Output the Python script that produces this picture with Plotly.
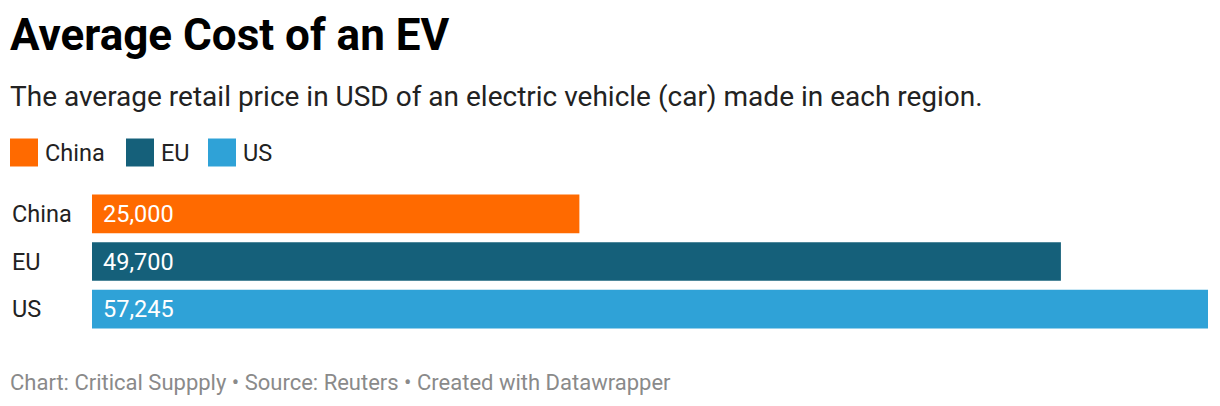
import plotly.graph_objects as go

# data
regions = ['China', 'EU', 'US']
avg_price_usd = [25000, 49700, 57245]
bar_colors = ['#ff6a00', '#15607a', '#2fa2d7']

title = 'Average Cost of an EV'
subtitle = 'The average retail price in USD of an electric vehicle (car) made in each region.'
footer = 'Chart: Critical Suppply \u2022 Source: Reuters \u2022 Created with Datawrapper'

FONT = 'Roboto'
LABEL_SIZE = 23.5
OFF = 8  # default body margin of the html page
PAD = 2  # annotation box padding
W, H = 1220 - 2 * OFF, 406 - 2 * OFF
PLOT_L, PLOT_R, PLOT_T, PLOT_B = 92 - OFF, 1208 - OFF, 189.5 - OFF, 333.5 - OFF
M_L, M_R, M_T, M_B = PLOT_L, W - PLOT_R, PLOT_T, H - PLOT_B

fig = go.Figure()
fig.add_trace(go.Bar(y = regions, x = avg_price_usd, orientation = 'h',
                     marker = dict(color = bar_colors, line = dict(width = 0)),
                     hoverinfo = 'skip', showlegend = False))

annotations = []

# category labels (left aligned at the left edge) and value labels inside bars
for reg, val in zip(regions, avg_price_usd):
    annotations.append(dict(text = reg, xref = 'paper', x = 0, xshift = 12 - PAD - 92, xanchor = 'left',
                            yref = 'y', y = reg, yanchor = 'middle', showarrow = False,
                            font = dict(family = FONT, size = LABEL_SIZE, color = '#222')))
    annotations.append(dict(text = f'{val:,}', xref = 'paper', x = 0, xshift = 11 - PAD, xanchor = 'left',
                            yref = 'y', y = reg, yanchor = 'middle', showarrow = False,
                            font = dict(family = FONT, size = LABEL_SIZE, color = '#ffffff')))

# header / footer texts, positions given as pixels of the page
def text_at(text, x_px, y_px, size, color, weight = 'normal'):
    return dict(text = text, xref = 'paper', x = 0, xshift = x_px - PAD - 92, xanchor = 'left',
                yref = 'paper', y = 1, yshift = 189.5 - y_px, yanchor = 'middle', showarrow = False,
                font = dict(family = FONT, size = size, color = color, weight = weight))

annotations.append(text_at(title, 10, 34, 44, '#000000', 'bold'))
annotations.append(text_at(subtitle, 10, 96, 28, '#222222'))
annotations.append(text_at(footer, 10, 382, 22, '#8a8a8a'))

# legend: squares + labels
legend_sq_x = [10, 126, 208]
shapes = []
for reg, col, sx in zip(regions, bar_colors, legend_sq_x):
    shapes.append(dict(type = 'rect', xref = 'paper', xsizemode = 'pixel', xanchor = 0,
                       x0 = sx - 92, x1 = sx + 28 - 92,
                       yref = 'paper', ysizemode = 'pixel', yanchor = 1,
                       y0 = 189.5 - 166, y1 = 189.5 - 138,
                       fillcolor = col, line = dict(width = 0)))
    annotations.append(text_at(reg, sx + 35, 152, LABEL_SIZE, '#222'))

fig.update_layout(width = W, height = H,
                  margin = dict(l = M_L, r = M_R, t = M_T, b = M_B, pad = 0),
                  paper_bgcolor = 'white', plot_bgcolor = 'white',
                  bargap = 9 / 48, annotations = annotations, shapes = shapes,
                  hovermode = False)
fig.update_xaxes(range = [0, max(avg_price_usd)], visible = False, fixedrange = True)
fig.update_yaxes(autorange = 'reversed', showticklabels = False, showgrid = False,
                 zeroline = False, showline = False, ticks = '', fixedrange = True)

fig.write_html("out.html", config = {'displayModeBar': False})
